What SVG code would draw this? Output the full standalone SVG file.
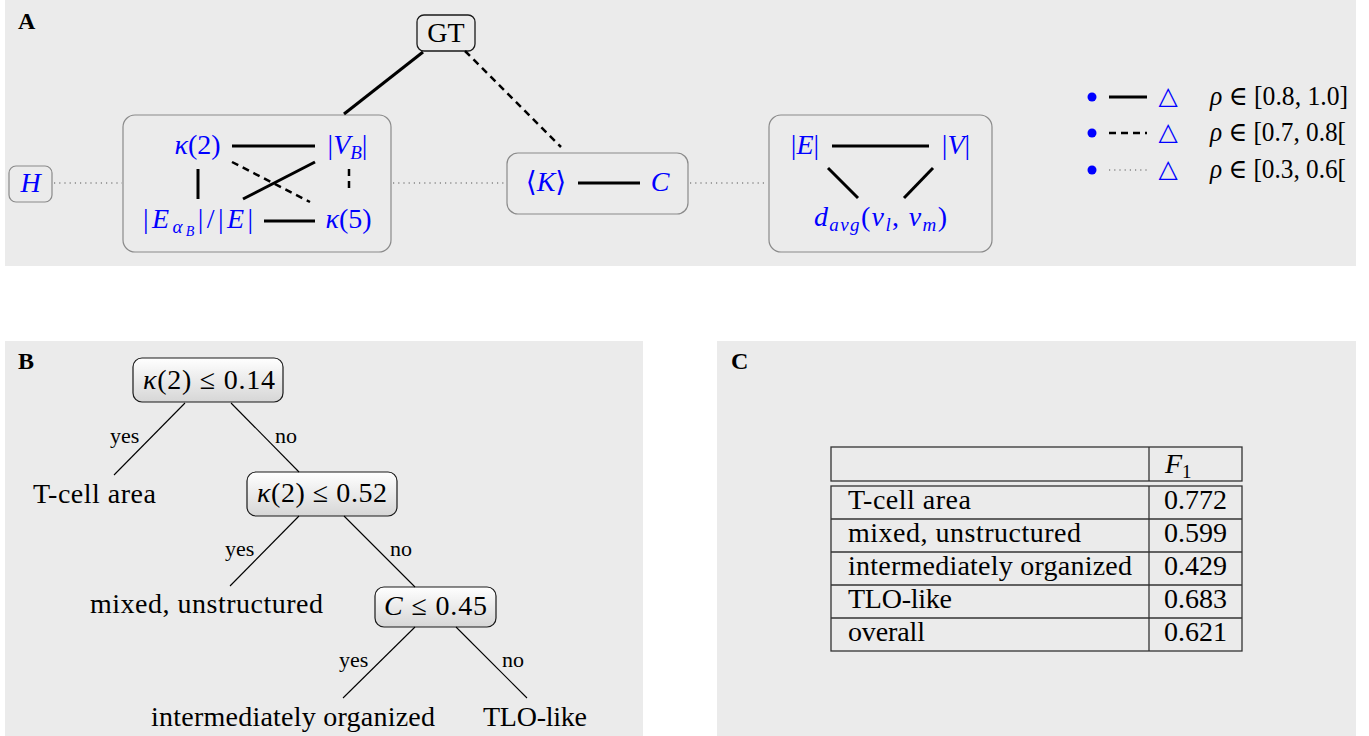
<svg xmlns="http://www.w3.org/2000/svg" width="1369" height="736" viewBox="0 0 1369 736">
  <defs>
    <linearGradient id="boxShade" x1="0" y1="0" x2="0" y2="1">
      <stop offset="0" stop-color="#ffffff"/>
      <stop offset="1" stop-color="#d6d6d6"/>
    </linearGradient>
    <style>
      .panel { fill: #ebebeb; }
      .t { font-family: "Liberation Serif", "DejaVu Serif", serif; font-size: 28px; fill: #000; }
      .m { font-family: "Liberation Serif", "DejaVu Serif", serif; font-size: 28px; fill: #0000ff; }
      .leg { font-family: "Liberation Serif", "DejaVu Serif", serif; font-size: 27px; fill: #000; }
      .i { font-style: italic; }
      .lbl { font-family: "Liberation Serif", "DejaVu Serif", serif; font-size: 24px; font-weight: bold; fill: #000; }
      .small { font-family: "Liberation Serif", "DejaVu Serif", serif; font-size: 22px; fill: #000; }
      .grp { fill: #ebebeb; stroke: #8a8a8a; stroke-width: 1.2; }
      .gt { fill: #ebebeb; stroke: #1a1a1a; stroke-width: 1.3; }
      .split { fill: url(#boxShade); stroke: #1a1a1a; stroke-width: 1.2; }
      .solid { stroke: #000; stroke-width: 3; fill: none; }
      .dash { stroke: #000; stroke-width: 2.5; stroke-dasharray: 7 5; fill: none; }
      .dot { stroke: #555; stroke-width: 1.2; stroke-dasharray: 1.2 4; fill: none; }
      .edge { stroke: #000; stroke-width: 1.1; fill: none; }
      .rule { stroke: #333; stroke-width: 1.3; fill: none; }
      .tri { font-family: "DejaVu Sans", sans-serif; font-size: 25px; fill: #0000ff; }
    </style>
  </defs>

  <!-- panel backgrounds -->
  <rect class="panel" x="5" y="0" width="1351" height="266"/>
  <rect class="panel" x="5" y="341" width="638" height="395"/>
  <rect class="panel" x="717" y="341" width="639" height="395"/>

  <text class="lbl" x="18" y="29">A</text>
  <text class="lbl" x="18" y="369">B</text>
  <text class="lbl" x="731" y="369">C</text>

  <!-- ===== Panel A: correlation graph ===== -->
  <g id="node-gt">
    <rect class="gt" x="417" y="15" width="58" height="36" rx="7"/>
    <text class="t" x="446" y="42" text-anchor="middle">GT</text>
  </g>

  <g id="node-h">
    <rect class="grp" x="9" y="166" width="43" height="36" rx="7"/>
    <text class="m" x="30.5" y="192" text-anchor="middle"><tspan class="i">H</tspan></text>
  </g>

  <g id="group-local">
    <rect class="grp" x="123" y="115" width="268" height="137" rx="12"/>
    <text class="m" x="197.5" y="154" text-anchor="middle"><tspan class="i">κ</tspan>(2)</text>
    <text class="m" x="347.5" y="154" text-anchor="middle">|<tspan class="i">V</tspan><tspan class="i" font-size="19" dy="5">B</tspan><tspan dy="-5">|</tspan></text>
    <text class="m" x="143" y="228" textLength="110" lengthAdjust="spacing">|<tspan class="i">E</tspan><tspan class="i" font-size="19" dy="5">α</tspan><tspan class="i" font-size="14" dy="3">B</tspan><tspan dy="-8">|/|</tspan><tspan class="i">E</tspan>|</text>
    <text class="m" x="348.5" y="228" text-anchor="middle"><tspan class="i">κ</tspan>(5)</text>
  </g>

  <g id="group-cluster">
    <rect class="grp" x="507" y="153" width="181" height="61" rx="11"/>
    <text class="m" x="546" y="191" text-anchor="middle">⟨<tspan class="i">K</tspan>⟩</text>
    <text class="m" x="660" y="191" text-anchor="middle"><tspan class="i">C</tspan></text>
  </g>

  <g id="group-global">
    <rect class="grp" x="769" y="115" width="223" height="137" rx="12"/>
    <text class="m" x="805" y="154" text-anchor="middle">|<tspan class="i">E</tspan>|</text>
    <text class="m" x="956" y="154" text-anchor="middle">|<tspan class="i">V</tspan>|</text>
    <text class="m" x="814" y="226" textLength="133" lengthAdjust="spacing"><tspan class="i">d</tspan><tspan class="i" font-size="19" dy="5">avg</tspan><tspan dy="-5">(</tspan><tspan class="i">v</tspan><tspan class="i" font-size="19" dy="5">l</tspan><tspan dy="-5">, </tspan><tspan class="i">v</tspan><tspan class="i" font-size="19" dy="5">m</tspan><tspan dy="-5">)</tspan></text>
  </g>

  <g id="legend">
    <circle cx="1092" cy="97" r="4.5" fill="#0000ff"/>
    <line class="solid" x1="1109" y1="97" x2="1147" y2="97"/>
    <text class="tri" x="1168" y="104" text-anchor="middle">△</text>
    <text class="leg" x="1210" y="105" textLength="138" lengthAdjust="spacingAndGlyphs"><tspan class="i">ρ</tspan> ∈ [0.8, 1.0]</text>

    <circle cx="1092" cy="133" r="4.5" fill="#0000ff"/>
    <line class="dash" x1="1109" y1="133" x2="1147" y2="133" stroke-dasharray="9 6"/>
    <text class="tri" x="1168" y="140" text-anchor="middle">△</text>
    <text class="leg" x="1210" y="141" textLength="136" lengthAdjust="spacingAndGlyphs"><tspan class="i">ρ</tspan> ∈ [0.7, 0.8[</text>

    <circle cx="1092" cy="170" r="4.5" fill="#0000ff"/>
    <line class="dot" x1="1109" y1="170" x2="1147" y2="170" stroke-width="1"/>
    <text class="tri" x="1168" y="177" text-anchor="middle">△</text>
    <text class="leg" x="1210" y="178" textLength="136" lengthAdjust="spacingAndGlyphs"><tspan class="i">ρ</tspan> ∈ [0.3, 0.6[</text>
  </g>

  <!-- ===== Panel B: decision tree ===== -->
  <g id="split-root">
    <rect class="split" x="133" y="358" width="150" height="44" rx="9"/>
    <text class="t" x="143" y="389" textLength="132" lengthAdjust="spacing"><tspan class="i">κ</tspan>(2) ≤ 0.14</text>
  </g>
  <g id="split-second">
    <rect class="split" x="247" y="472" width="150" height="44" rx="9"/>
    <text class="t" x="257" y="502" textLength="130" lengthAdjust="spacing"><tspan class="i">κ</tspan>(2) ≤ 0.52</text>
  </g>
  <g id="split-third">
    <rect class="split" x="375" y="587" width="121" height="40" rx="9"/>
    <text class="t" x="384" y="615" textLength="103" lengthAdjust="spacing"><tspan class="i">C</tspan> ≤ 0.45</text>
  </g>

  <g id="edge-labels">
    <text class="small" x="110" y="443">yes</text>
    <text class="small" x="275" y="443">no</text>
    <text class="small" x="225" y="556">yes</text>
    <text class="small" x="390" y="556">no</text>
    <text class="small" x="339" y="667">yes</text>
    <text class="small" x="502" y="667">no</text>
  </g>

  <g id="leaf-tcell"><text class="t" x="33" y="503" textLength="123" lengthAdjust="spacing">T-cell area</text></g>
  <g id="leaf-mixed"><text class="t" x="90" y="613" textLength="233" lengthAdjust="spacing">mixed, unstructured</text></g>
  <g id="leaf-intermediate"><text class="t" x="151" y="726" textLength="284" lengthAdjust="spacing">intermediately organized</text></g>
  <g id="leaf-tlo"><text class="t" x="483" y="726" textLength="104" lengthAdjust="spacing">TLO-like</text></g>

  <!-- connectors drawn above the group boxes -->
  <g id="connectors">
    <!-- GT to groups -->
    <line class="solid" x1="423" y1="52" x2="344" y2="114"/>
    <line class="dash" x1="465" y1="51" x2="561" y2="147"/>
    <!-- dotted links between groups -->
    <line class="dot" x1="54" y1="183" x2="122" y2="183"/>
    <line class="dot" x1="393" y1="183" x2="506" y2="183"/>
    <line class="dot" x1="690" y1="183" x2="768" y2="183"/>
    <!-- inside group 1 -->
    <line class="solid" x1="232" y1="146" x2="315" y2="146"/>
    <line class="solid" x1="198" y1="169" x2="198" y2="199"/>
    <line class="dash" x1="349" y1="169" x2="349" y2="193"/>
    <line class="solid" x1="264" y1="221" x2="315" y2="221"/>
    <line class="solid" x1="243" y1="199" x2="315" y2="162"/>
    <line class="dash" x1="232" y1="162" x2="310" y2="202"/>
    <!-- inside group 2 -->
    <line class="solid" x1="578" y1="183" x2="640" y2="183"/>
    <!-- inside group 3 -->
    <line class="solid" x1="832" y1="146" x2="929" y2="146"/>
    <line class="solid" x1="828" y1="168" x2="858" y2="198"/>
    <line class="solid" x1="933" y1="168" x2="904" y2="198"/>

    <!-- decision tree edges -->
    <line class="edge" x1="185" y1="403" x2="114" y2="475"/>
    <line class="edge" x1="231" y1="403" x2="299" y2="472"/>
    <line class="edge" x1="299" y1="516" x2="230" y2="586"/>
    <line class="edge" x1="344" y1="516" x2="415" y2="587"/>
    <line class="edge" x1="415" y1="627" x2="343" y2="698"/>
    <line class="edge" x1="456" y1="627" x2="527" y2="698"/>
  </g>

  <!-- ===== Panel C: F1 table ===== -->
  <g id="score-table">
    <rect class="rule" x="831" y="447" width="411" height="34"/>
    <line class="rule" x1="1149" y1="447" x2="1149" y2="481"/>
    <rect class="rule" x="831" y="486" width="411" height="165"/>
    <line class="rule" x1="1149" y1="486" x2="1149" y2="651"/>
    <line class="rule" x1="831" y1="519" x2="1242" y2="519"/>
    <line class="rule" x1="831" y1="552" x2="1242" y2="552"/>
    <line class="rule" x1="831" y1="585" x2="1242" y2="585"/>
    <line class="rule" x1="831" y1="618" x2="1242" y2="618"/>

    <text class="t" x="1165" y="473"><tspan class="i">F</tspan><tspan font-size="19" dy="5">1</tspan></text>

    <text class="t" x="848" y="509" textLength="123" lengthAdjust="spacing">T-cell area</text>
    <text class="t" x="848" y="542" textLength="233" lengthAdjust="spacing">mixed, unstructured</text>
    <text class="t" x="848" y="575" textLength="284" lengthAdjust="spacing">intermediately organized</text>
    <text class="t" x="848" y="608" textLength="104" lengthAdjust="spacing">TLO-like</text>
    <text class="t" x="848" y="641" textLength="77" lengthAdjust="spacing">overall</text>

    <text class="t" x="1195.5" y="509" text-anchor="middle">0.772</text>
    <text class="t" x="1195.5" y="542" text-anchor="middle">0.599</text>
    <text class="t" x="1195.5" y="575" text-anchor="middle">0.429</text>
    <text class="t" x="1195.5" y="608" text-anchor="middle">0.683</text>
    <text class="t" x="1195.5" y="641" text-anchor="middle">0.621</text>
  </g>
</svg>
